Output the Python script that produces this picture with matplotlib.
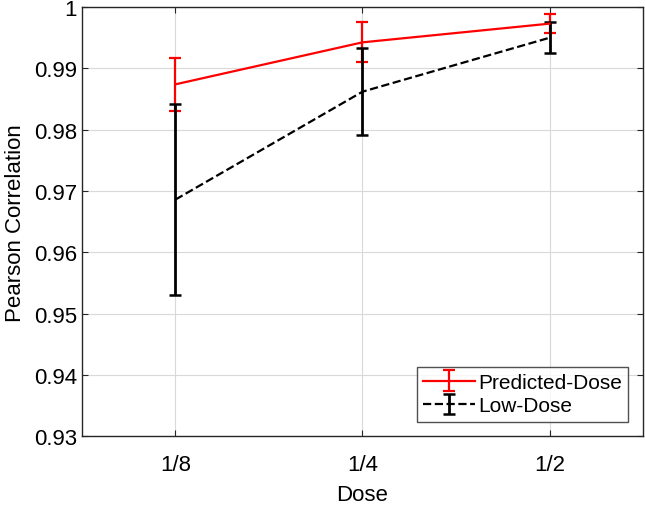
import numpy as np
import matplotlib
matplotlib.use('Agg')
import matplotlib.pyplot as plt

# data
doses = ['1/8', '1/4', '1/2']
pred_mean = [0.9874, 0.99425, 0.9973]
pred_err = [0.0043, 0.00325, 0.0015]
low_mean = [0.9686, 0.9862, 0.9950]
low_err = [0.0156, 0.0071, 0.0025]

plt.rcParams['font.family'] = ['Liberation Sans', 'DejaVu Sans']

fig = plt.figure(figsize=(6.45, 5.06), dpi=100)
ax = fig.add_axes([0.127, 0.136, 0.870, 0.848])

x = np.arange(1, len(doses) + 1)
ax.errorbar(x, pred_mean, yerr=pred_err, color='#ff0000', lw=1.6,
            capsize=4.5, capthick=1.6, elinewidth=1.6, label='Predicted-Dose', zorder=3)
ax.errorbar(x, low_mean, yerr=low_err, color='black', lw=1.6, ls='--',
            capsize=4.5, capthick=1.8, elinewidth=2.0, label='Low-Dose', zorder=3)

ax.set_xlim(0.5, 3.5)
ax.set_ylim(0.93, 1.0)
ax.set_xticks(x)
ax.set_xticklabels(doses)
ax.set_yticks(np.round(np.arange(0.93, 1.0001, 0.01), 2))
ax.set_yticklabels(['0.93', '0.94', '0.95', '0.96', '0.97', '0.98', '0.99', '1'])
ax.tick_params(direction='in', top=True, right=True, labelsize=16, length=4,
               color='#262626', labelcolor='black')
ax.tick_params(axis='x', pad=13)
ax.grid(True, color='#d9d9d9', lw=0.8)
ax.set_axisbelow(True)
for s in ax.spines.values():
    s.set_color('#262626')
    s.set_linewidth(1.0)

ax.set_xlabel('Dose', fontsize=16, labelpad=6)
ax.set_ylabel('Pearson Correlation', fontsize=16, labelpad=6)

leg = ax.legend(loc='lower right', fontsize=15, frameon=True, fancybox=False,
                handlelength=2.5, borderaxespad=0.7, borderpad=0.3, labelspacing=0.2,
                handletextpad=0.15)
leg.get_frame().set_edgecolor('#262626')
leg.get_frame().set_linewidth(1.0)

fig.savefig('out.png', dpi=100)
plt.close(fig)
